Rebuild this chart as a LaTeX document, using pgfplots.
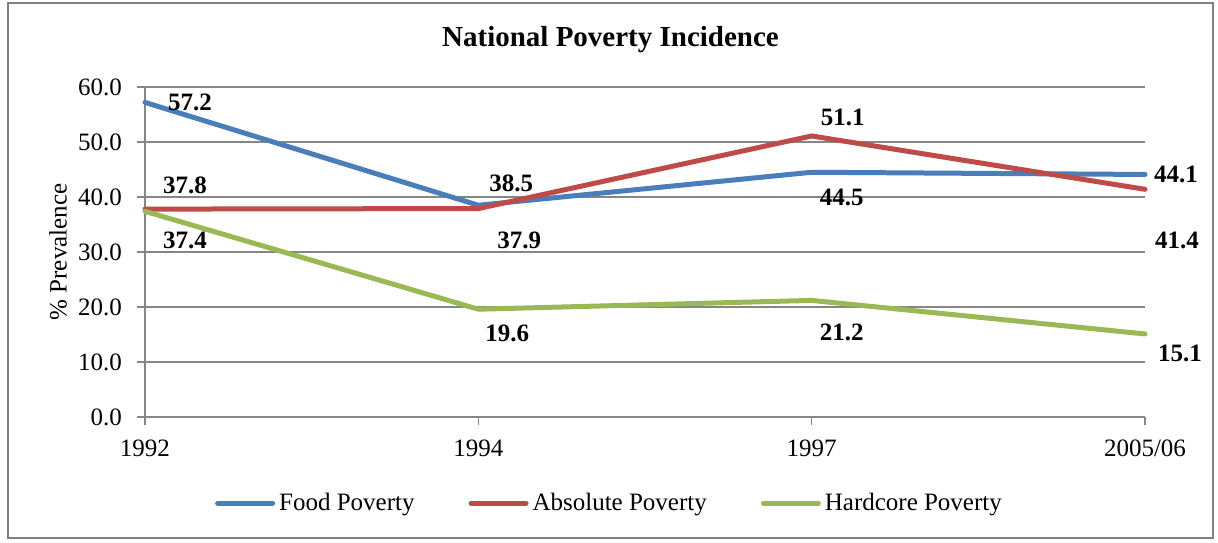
\documentclass[border=0pt]{standalone}
\usepackage{pgfplots}
\pgfplotsset{compat=1.18}
\usepackage{fontspec}
\setmainfont{Liberation Serif}
\definecolor{cfood}{RGB}{74,126,187}
\definecolor{cabs}{RGB}{190,75,72}
\definecolor{chard}{RGB}{152,185,84}
\definecolor{cgrid}{RGB}{134,134,134}
\definecolor{cframe}{RGB}{128,128,128}

\pgfplotstableread{
x y dx dy
0 57.2 22.5 0
1 38.5 16.5 11
2 44.5 15 -12.5
3 44.1 15.5 0
}\food
\pgfplotstableread{
x y dx dy
0 37.8 20 12
1 37.9 20.5 -16
2 51.1 15.5 9.5
3 41.4 16 -25.5
}\absolute
\pgfplotstableread{
x y dx dy
0 37.4 20 -14.5
1 19.6 14.5 -12
2 21.2 15 -16
3 15.1 17.5 -9.5
}\hardcore

\begin{document}
\begin{tikzpicture}
\path[use as bounding box] (-72.5pt,-62.5pt) rectangle (536.5pt,208.5pt);
\draw[cframe, line width=0.75pt] (-68.5pt,-60.5pt) rectangle (534pt,207pt);
\node[font=\fontsize{14.5}{16}\selectfont\bfseries] at (232.75pt,188.5pt) {National Poverty Incidence};
\begin{axis}[
  at={(0,0)}, anchor=south west,
  width=500pt, height=165pt, scale only axis,
  xmin=0, xmax=3, ymin=0, ymax=60,
  xtick={0,1,2,3}, xticklabels={1992,1994,1997,2005/06},
  ytick={0,10,20,30,40,50,60},
  /pgf/number format/assume math mode=true,
  yticklabel={\pgfmathprintnumber[fixed,fixed zerofill,precision=1]{\tick}},
  axis x line*=bottom, axis y line*=left,
  axis line style={cgrid, line width=0.75pt},
  ymajorgrids, grid style={cgrid, line width=0.75pt},
  tick style={cgrid, line width=0.75pt},
  tick align=outside, major tick length=4pt,
  ticklabel style={font=\fontsize{12.5}{14}\selectfont, text=black},
  yticklabel style={xshift=-4pt},
  xticklabel style={yshift=-4pt},
  ylabel={\% Prevalence},
  ylabel style={font=\fontsize{12.5}{14}\selectfont, at={(axis description cs:-0.087,0.5)}, anchor=center},
  legend columns=3,
  legend style={draw=none, fill=none, at={(0.4655,0)}, anchor=center, yshift=-43pt,
    font=\fontsize{12.5}{14}\selectfont,
    /tikz/every odd column/.append style={column sep=0pt},
    /tikz/every even column/.append style={column sep=25pt}},
  legend image code/.code={\draw[#1, line width=2.5pt, line cap=round] (0pt,0pt) -- (27.5pt,0pt);},
  every node near coord/.append style={font=\fontsize{12.5}{14}\selectfont\bfseries, text=black, anchor=center},
  clip=false,
]
\addplot[cfood, line width=2.5pt, line cap=round, line join=round] table[x=x,y=y] {\food};
\addlegendentry{Food Poverty}
\addplot[cabs, line width=2.5pt, line cap=round, line join=round] table[x=x,y=y] {\absolute};
\addlegendentry{Absolute Poverty}
\addplot[chard, line width=2.5pt, line cap=round, line join=round] table[x=x,y=y] {\hardcore};
\addlegendentry{Hardcore Poverty}

\addplot[draw=none, forget plot, nodes near coords, point meta=y,
  nodes near coords={\pgfmathprintnumber[fixed,fixed zerofill,precision=1]{\pgfplotspointmeta}},
  visualization depends on={\thisrow{dx}\as\dx},
  visualization depends on={\thisrow{dy}\as\dy},
  every node near coord/.append style={xshift=\dx pt, yshift=\dy pt}] table[x=x,y=y] {\food};
\addplot[draw=none, forget plot, nodes near coords, point meta=y,
  nodes near coords={\pgfmathprintnumber[fixed,fixed zerofill,precision=1]{\pgfplotspointmeta}},
  visualization depends on={\thisrow{dx}\as\dx},
  visualization depends on={\thisrow{dy}\as\dy},
  every node near coord/.append style={xshift=\dx pt, yshift=\dy pt}] table[x=x,y=y] {\absolute};
\addplot[draw=none, forget plot, nodes near coords, point meta=y,
  nodes near coords={\pgfmathprintnumber[fixed,fixed zerofill,precision=1]{\pgfplotspointmeta}},
  visualization depends on={\thisrow{dx}\as\dx},
  visualization depends on={\thisrow{dy}\as\dy},
  every node near coord/.append style={xshift=\dx pt, yshift=\dy pt}] table[x=x,y=y] {\hardcore};
\end{axis}
\end{tikzpicture}
\end{document}
